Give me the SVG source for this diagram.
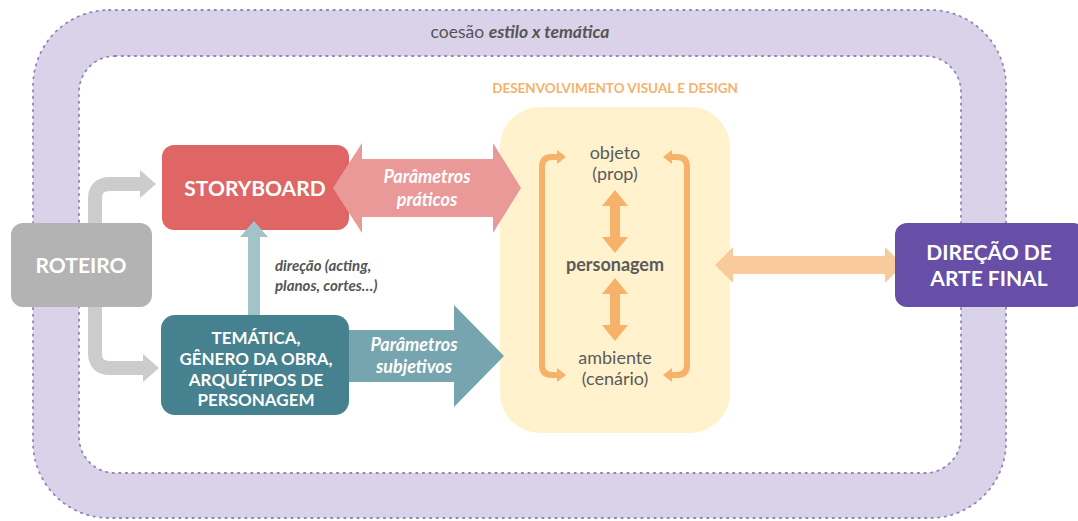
<svg xmlns="http://www.w3.org/2000/svg" width="1078" height="521" viewBox="0 0 1078 521">
<style>
text{font-family:Lato,"Open Sans","Liberation Sans",sans-serif}
.wb{fill:#fff;font-weight:bold;text-anchor:middle}
.wbi{fill:#fff;font-weight:bold;font-style:italic;text-anchor:middle;font-size:18px}
.dg{fill:#5b5b5b;text-anchor:middle;font-size:18px}
.band{stroke:#8e86b8;stroke-width:1.8;stroke-dasharray:1.4 5.2;stroke-linecap:round}
.orange{fill:#f6b26b}
.note{fill:#555;font-size:15px;font-weight:bold;font-style:italic}
</style>
<g id="cohesion-band">
<rect x="33" y="10" width="973" height="508" rx="76" fill="#d9d2e9" class="band"/>
<rect x="79" y="56" width="882" height="417" rx="36" fill="#ffffff" class="band"/>
<text x="520" y="38" fill="#555" font-size="17.5" text-anchor="middle">coesão <tspan font-weight="bold" font-style="italic">estilo x temática</tspan></text>
</g>
<g id="design-area">
<rect x="500" y="107" width="230" height="326" rx="40" fill="#fff2cc"/>
<text x="615" y="93" fill="#f6b26b" font-size="13.5" font-weight="bold" text-anchor="middle">DESENVOLVIMENTO VISUAL E DESIGN</text>
</g>
<g id="connectors">
<path d="M95,223 V199 Q95,184 110,184 H142" fill="none" stroke="#cccccc" stroke-width="14"/>
<polygon points="140,170 156,184 140,198" fill="#cccccc"/>
<path d="M95,307 V353 Q95,368 110,368 H144" fill="none" stroke="#cccccc" stroke-width="14"/>
<polygon points="143,354 159,368 143,382" fill="#cccccc"/>
<polygon points="345,330 454,330 454,305 504,356 454,407 454,382 345,382" fill="#76a5af"/>
<text class="wbi" x="414" y="351">Parâmetros</text>
<text class="wbi" x="414" y="373">subjetivos</text>
<g id="design-inner-arrows" class="orange">
<path d="M560,157 H552 Q542,157 542,167 V365 Q542,375 552,375 H560" fill="none" stroke="#f6b26b" stroke-width="6"/>
<polygon points="557,150 566,157 557,164"/>
<polygon points="557,368 566,375 557,382"/>
<path d="M670,157 H677 Q687,157 687,167 V365 Q687,375 677,375 H670" fill="none" stroke="#f6b26b" stroke-width="6"/>
<polygon points="672,150 663,157 672,164"/>
<polygon points="672,368 663,375 672,382"/>
<polygon points="615,190 628,206 620,206 620,237 628,237 615,253 602,237 610,237 610,206 602,206"/>
<polygon points="615,278 628,294 620,294 620,325 628,325 615,341 602,325 610,325 610,294 602,294"/>
</g>
<polygon points="715,265 733,247 733,256 885,256 885,247 903,265 885,283 885,274 733,274 733,283" fill="#f9cb9c"/>
</g>
<g id="design-texts">
<text class="dg" x="615" y="159">objeto</text>
<text class="dg" x="615" y="180">(prop)</text>
<text class="dg" x="615" y="271" font-weight="bold" font-size="19">personagem</text>
<text class="dg" x="615" y="364">ambiente</text>
<text class="dg" x="615" y="385">(cenário)</text>
</g>
<g id="roteiro">
<rect x="11" y="223" width="141" height="84" rx="12" fill="#b3b3b3"/>
<text class="wb" x="81" y="273" font-size="21">ROTEIRO</text>
</g>
<g id="storyboard">
<rect x="162" y="145" width="187" height="85" rx="12" fill="#e06666"/>
<text class="wb" x="255" y="196" font-size="21">STORYBOARD</text>
</g>
<g id="pratico-arrow">
<polygon points="333,188 362,143 362,159 493,159 493,143 521,188 493,233 493,217 362,217 362,233" fill="#ea9999"/>
<text class="wbi" x="427" y="183">Parâmetros</text>
<text class="wbi" x="427" y="206">práticos</text>
</g>
<g id="direcao-arrow">
<rect x="248" y="235" width="12" height="82" fill="#a2c4c9"/>
<polygon points="240,237 254,221 268,237" fill="#a2c4c9"/>
<text class="note" x="275" y="271">direção (acting,</text>
<text class="note" x="275" y="291">planos, cortes…)</text>
</g>
<g id="tematica">
<rect x="161" y="315" width="188" height="100" rx="14" fill="#45818e"/>
<text class="wb" font-size="17" x="256" y="344">TEMÁTICA,</text>
<text class="wb" font-size="17" x="256" y="365">GÊNERO DA OBRA,</text>
<text class="wb" font-size="17" x="256" y="386">ARQUÉTIPOS DE</text>
<text class="wb" font-size="17" x="256" y="406">PERSONAGEM</text>
</g>
<g id="direcao-arte">
<rect x="895" y="223" width="190" height="84" rx="12" fill="#674ea7"/>
<text class="wb" font-size="21" x="989" y="260">DIREÇÃO DE</text>
<text class="wb" font-size="21" x="989" y="286">ARTE FINAL</text>
</g>
</svg>
